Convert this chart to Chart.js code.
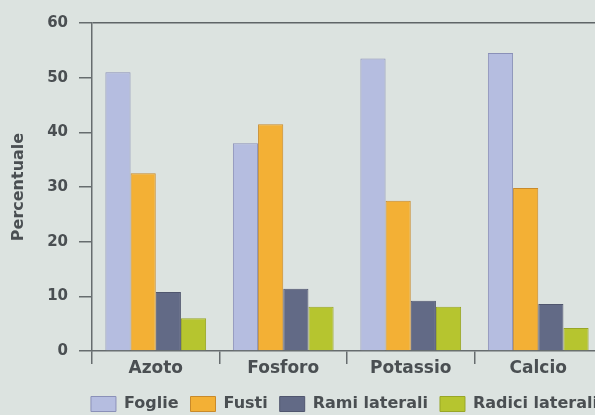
<!DOCTYPE html>
<html>
<head>
<meta charset="utf-8">
<script src="https://cdn.jsdelivr.net/npm/chart.js@4.4.0/dist/chart.umd.min.js"></script>
<style>
  html, body { margin: 0; padding: 0; background: #dce3e0; overflow: hidden; }
  #wrap { width: 612px; height: 415px; }
</style>
</head>
<body>
<div id="wrap"><canvas id="myChart" width="612" height="415"></canvas></div>
<script>
const categories = ['Azoto', 'Fosforo', 'Potassio', 'Calcio'];
const foglie = [51, 38, 53.5, 54.5];
const fusti = [32.5, 41.5, 27.5, 29.8];
const ramiLaterali = [10.8, 11.4, 9.2, 8.6];
const radiciLaterali = [6, 8.1, 8.1, 4.2];
const yTicks = [0, 10, 20, 30, 40, 50, 60];

const axisColor = '#666c6e';
const textColor = '#4a4f52';
const fontName = 'DejaVu Sans';

// nudge the legend a bit to the right (the original is cut off at the edge)
const shiftLegend = {
    id: 'shiftLegend',
    afterUpdate(chart) {
        chart.legend.left += 8;
        chart.legend.right += 8;
    }
};

const ctx = document.getElementById('myChart').getContext('2d');
const myChart = new Chart(ctx, {
    type: 'bar',
    data: {
        labels: categories,
        datasets: [
            { label: 'Foglie', data: foglie, backgroundColor: '#b5bde0', borderColor: '#8a90b8', borderWidth: 1 },
            { label: 'Fusti', data: fusti, backgroundColor: '#f3b035', borderColor: '#c98a2a', borderWidth: 1 },
            { label: 'Rami laterali', data: ramiLaterali, backgroundColor: '#626a86', borderColor: '#50566e', borderWidth: 1 },
            { label: 'Radici laterali', data: radiciLaterali, backgroundColor: '#b6c52f', borderColor: '#98a626', borderWidth: 1 }
        ]
    },
    options: {
        responsive: false,
        animation: false,
        devicePixelRatio: 1,
        layout: { padding: { top: 23, right: 10, bottom: -7, left: 0 } },
        datasets: { bar: { categoryPercentage: 0.79, barPercentage: 1 } },
        scales: {
            x: {
                afterFit: (scale) => { scale.height = 33; },
                grid: { offset: true, color: 'transparent', tickColor: axisColor, tickLength: 13, lineWidth: 1.5 },
                border: { color: axisColor, width: 1.5 },
                ticks: { color: textColor, padding: -6, font: { family: fontName, size: 17, weight: 'bold' } }
            },
            y: {
                min: 0,
                max: 60,
                afterFit: (scale) => { scale.width = 92; },
                afterBuildTicks: (scale) => { scale.ticks = yTicks.map(v => ({ value: v })); },
                grid: {
                    color: (c) => (c.tick && c.tick.value === 60 ? '#5f6567' : 'transparent'),
                    tickColor: axisColor,
                    tickLength: 13,
                    lineWidth: 1.5
                },
                border: { color: axisColor, width: 1.5 },
                ticks: { color: textColor, padding: 11, font: { family: fontName, size: 15, weight: 'bold' } },
                title: {
                    display: true,
                    text: 'Percentuale',
                    color: textColor,
                    padding: { top: 9, bottom: 0 },
                    font: { family: fontName, size: 16, weight: 'bold' }
                }
            }
        },
        plugins: {
            legend: {
                position: 'bottom',
                align: 'end',
                labels: {
                    boxWidth: 25,
                    boxHeight: 15,
                    padding: 12,
                    color: textColor,
                    font: { family: fontName, size: 16, weight: 'bold' }
                }
            },
            tooltip: { enabled: false }
        }
    },
    plugins: [shiftLegend]
});
</script>
</body>
</html>
